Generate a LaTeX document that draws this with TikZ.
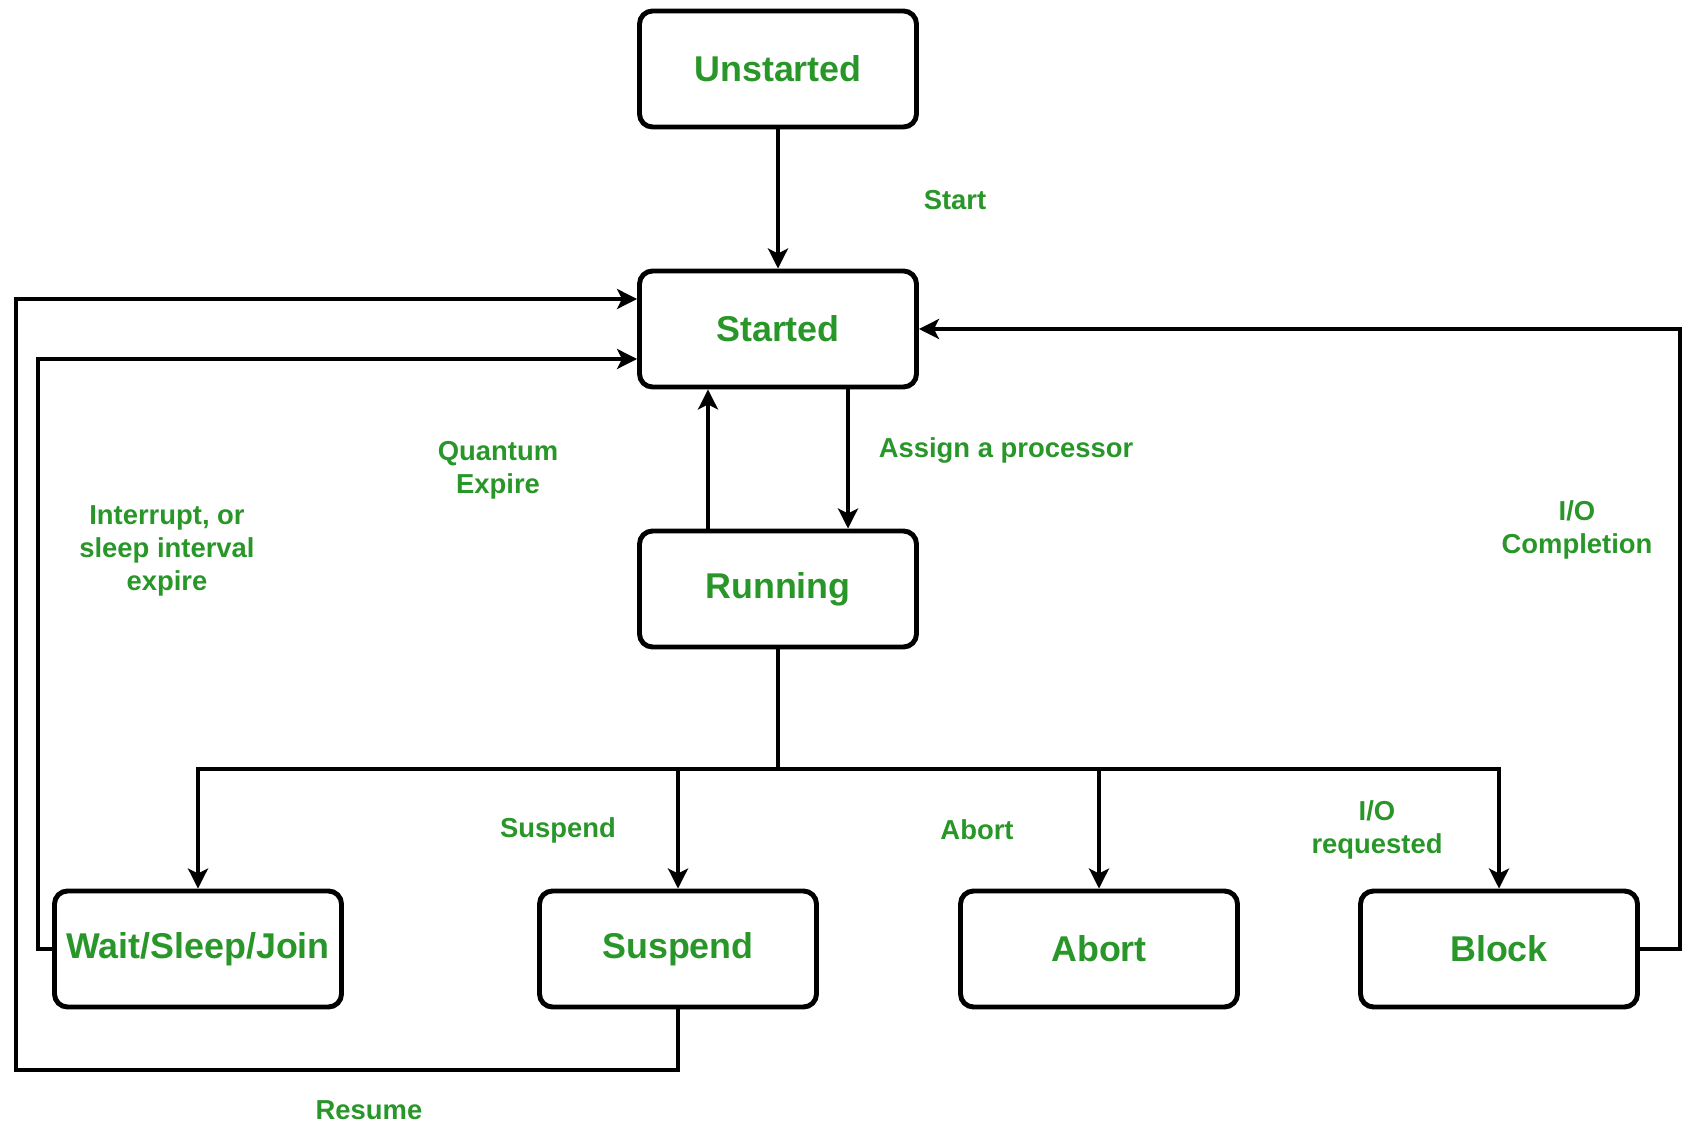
\documentclass[tikz,border=0pt]{standalone}
\usepackage{fontspec}
\setmainfont{Liberation Sans}
\usetikzlibrary{arrows.meta}

\definecolor{stategreen}{RGB}{40,150,40}
\tikzstyle{state} = [draw,rounded corners=1.3mm,line width=1.4pt,minimum width=2.77cm,minimum height=1.16cm,text=stategreen,font=\bfseries\fontsize{10.2}{12}\selectfont]
\tikzstyle{edgelabel} = [text=stategreen,font=\bfseries\fontsize{7.8}{9.3}\selectfont,align=center]
\tikzstyle{link} = [line width=1pt,-{Stealth[length=2mm,width=2mm,inset=0.5mm]}]

\begin{document}
\begin{tikzpicture}
	\useasboundingbox (0,0) rectangle (16.86,-11.24);
	\node[state] (unstarted) at (7.78,-0.69) {Unstarted};
	\node[state] (started) at (7.78,-3.29) {Started};
	\node[state] (running) at (7.78,-5.89) {Running};
	\node[state] (wait) at (1.98,-9.49) {Wait/Sleep/Join};
	\node[state] (suspend) at (6.78,-9.49) {Suspend};
	\node[state] (abort) at (10.99,-9.49) {Abort};
	\node[state] (block) at (14.99,-9.49) {Block};
	\coordinate (bus) at (7.78,-7.69);
	\coordinate (wl) at (0.38,-9.49);
	\coordinate (sl) at (0.16,-10.70);
	\coordinate (br) at (16.80,-9.49);
	\draw[link] (unstarted) -- (started);
	\draw[link] ([xshift=0.70cm]started.south) -- ([xshift=0.70cm]running.north);
	\draw[link] ([xshift=-0.70cm]running.north) -- ([xshift=-0.70cm]started.south);
	\draw[line width=1.3pt] (running) -- (bus);
	\draw[link] (bus) -| (wait);
	\draw[link] (bus) -| (suspend);
	\draw[link] (bus) -| (abort);
	\draw[link] (bus) -| (block);
	\draw[link] (wait.west) -- (wl) |- ([yshift=-3mm]started.west);
	\draw[link] (suspend.south) |- (sl) |- ([yshift=3mm]started.west);
	\draw[link] (block.east) -- (br) |- (started.east);
	\node[edgelabel] (lstart) at (9.55,-2.00) {Start};
	\node[edgelabel] (lassign) at (10.06,-4.50) {Assign a processor};
	\node[edgelabel] (lquantum) at (4.98,-4.70) {Quantum\\Expire};
	\node[edgelabel] (linterrupt) at (1.67,-5.51) {Interrupt, or\\sleep interval\\expire};
	\node[edgelabel] (lcompletion) at (15.77,-5.30) {I/O\\Completion};
	\node[edgelabel] (lsuspend) at (5.58,-8.30) {Suspend};
	\node[edgelabel] (labort) at (9.77,-8.30) {Abort};
	\node[edgelabel] (lrequested) at (13.77,-8.30) {I/O\\requested};
	\node[edgelabel] (lresume) at (3.69,-11.10) {Resume};
\end{tikzpicture}
\end{document}
